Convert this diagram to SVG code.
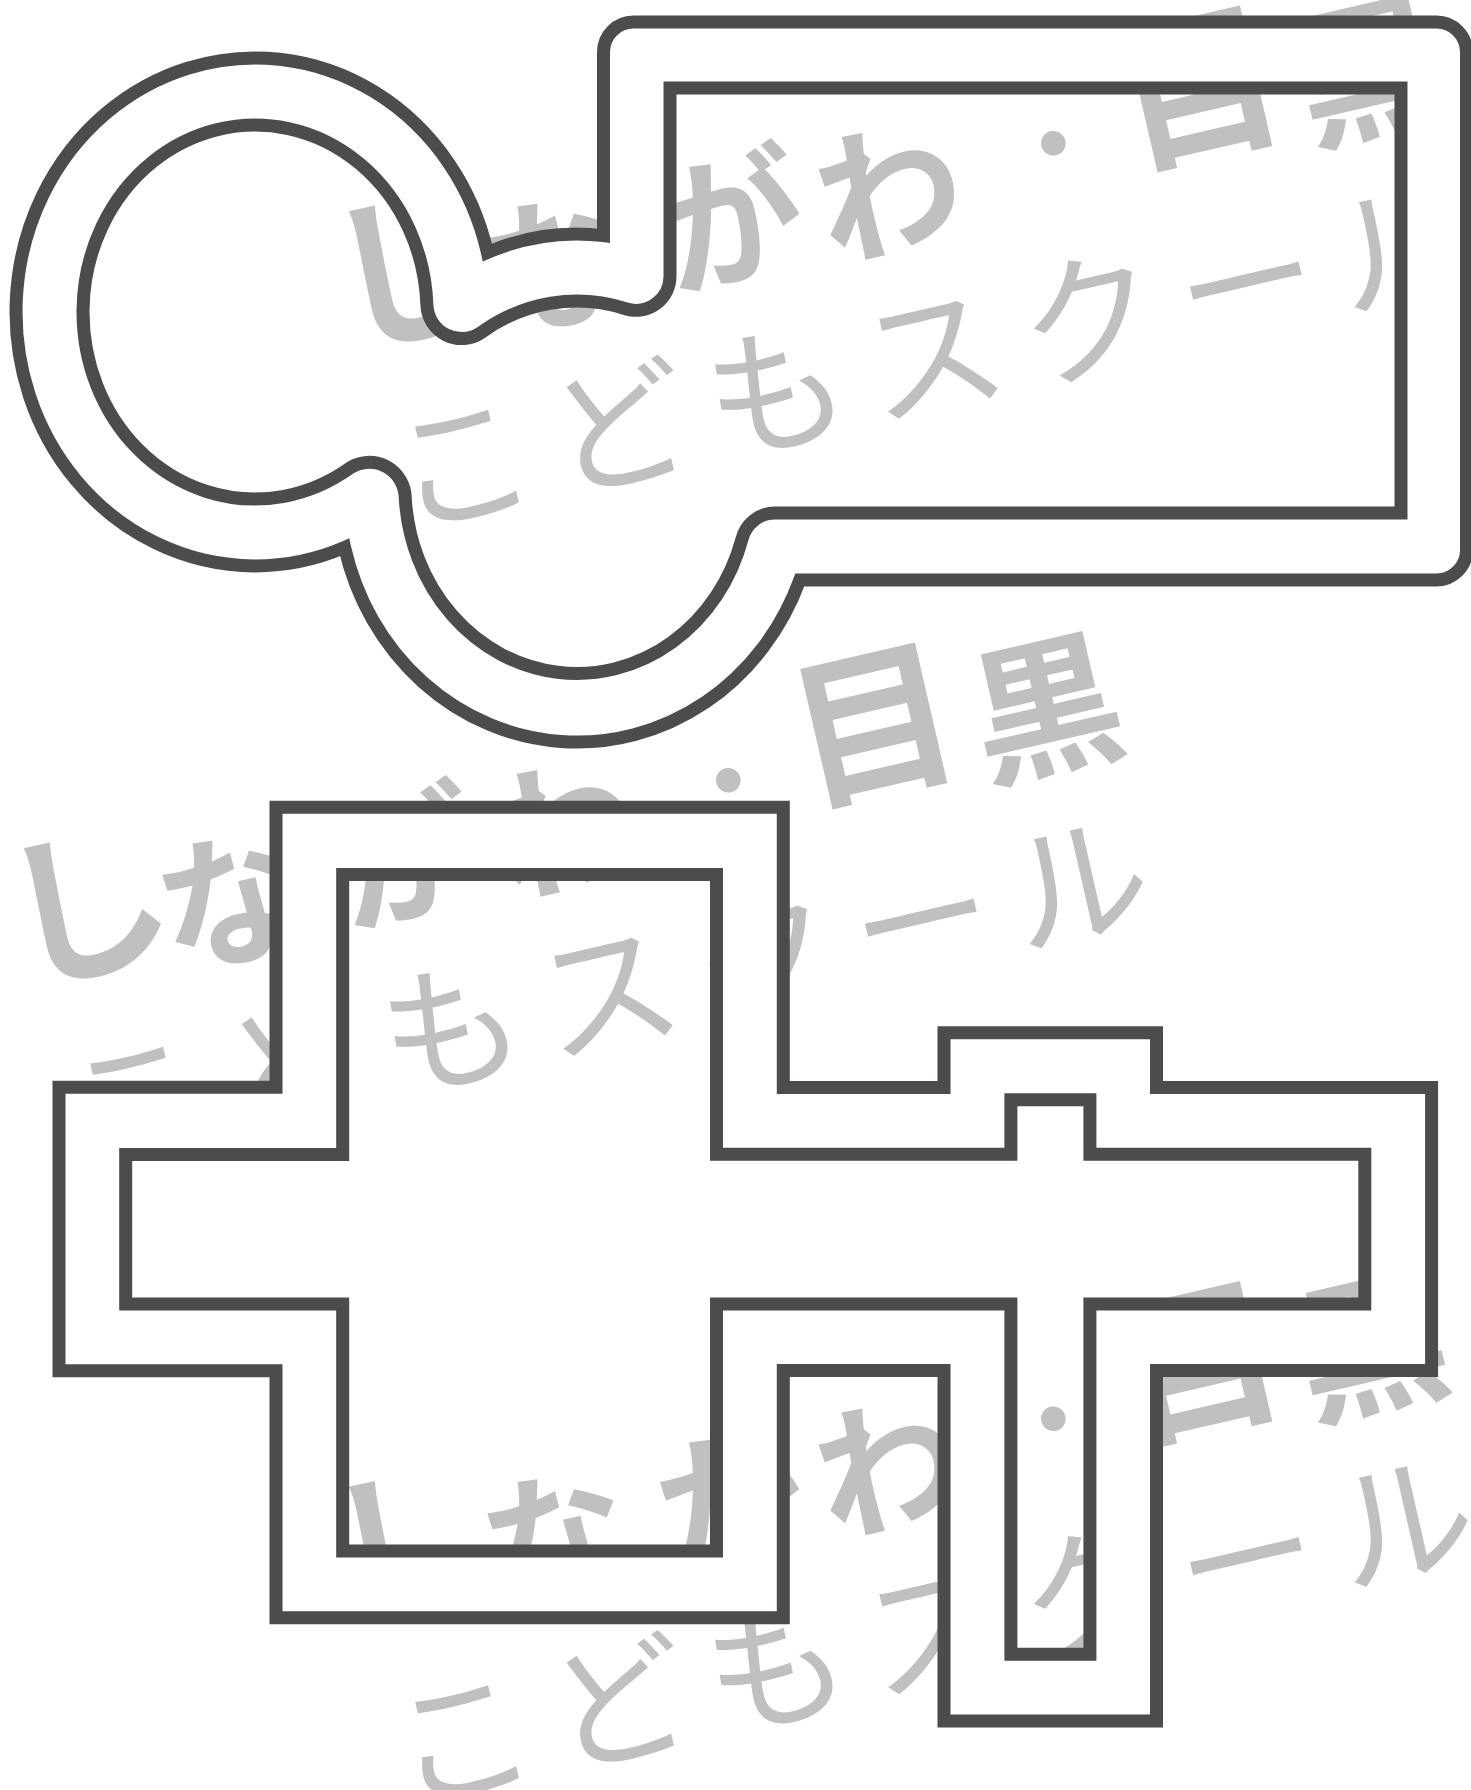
<svg xmlns="http://www.w3.org/2000/svg" xmlns:xlink="http://www.w3.org/1999/xlink" width="1471" height="1790" viewBox="0 0 1471 1790">
  <style>
    .t1 { font-family: "Noto Sans CJK JP", "Noto Sans CJK SC", sans-serif; font-weight: 700; font-size: 165px; fill: #c0c0c2; }
    .t2 { font-family: "Noto Sans CJK JP", "Noto Sans CJK SC", sans-serif; font-weight: 400; font-size: 140px; fill: #c0c0c2; letter-spacing: 21px; }
    .outline { fill: #ffffff; fill-rule: evenodd; stroke: #4d4b4c; stroke-width: 13; stroke-linejoin: miter; stroke-miterlimit: 10; }
  </style>
  <defs>
    <g id="wm">
      <text class="t1"><tspan x="-8" y="0">し</tspan><tspan x="143.5 323.5 484.5" y="21 18 25" font-size="145">ながわ</tspan><tspan x="680.4" y="-2.5" font-size="96">・</tspan><tspan x="800" y="0">目</tspan><tspan x="979" y="18" font-size="150">黒</tspan></text>
      <text class="t2" x="10" y="192">こどもスクール</text>
    </g>
  </defs>
  <rect x="0" y="0" width="1471" height="1790" fill="#ffffff"/>
  <g id="watermarks">
    <use xlink:href="#wm" href="#wm" transform="translate(352.4,344.9) rotate(-13)"/>
    <use xlink:href="#wm" href="#wm" transform="translate(27.4,981.9) rotate(-13)"/>
    <use xlink:href="#wm" href="#wm" transform="translate(352.4,1620.4) rotate(-13)"/>
  </g>
  <g id="key-shape">
    <path class="outline" d="M 487.4 252.5 A 239 254 0 0 1 603.5 235.6 V 52 A 30 30 0 0 1 633.5 22 H 1436.5 A 30 30 0 0 1 1466.5 52 V 550 A 30 30 0 0 1 1436.5 580 H 799.8 A 239 254 0 0 1 344.6 547.4 A 239 254 0 1 1 487.4 252.5 Z M 670 88 H 1401 V 513 H 775 A 34 34 0 0 0 742 539 A 172 187 0 0 1 405.2 497.1 A 36 36 0 0 0 350.2 467.8 A 172 187 0 1 1 426.9 304.8 A 34.8 34.8 0 0 0 481.5 332.4 A 172 187 0 0 1 625.7 308.7 A 34 34 0 0 0 670 276.3 Z"/>
  </g>
  <g id="cross-shape">
    <path class="outline" d="M 276 807.3 H 783.3 V 1087.4 H 944 V 1032.8 H 1156.5 V 1087.4 H 1431.6 V 1370.6 H 1156.5 V 1721 H 944 V 1370.6 H 783.3 V 1617.7 H 276 V 1370.7 H 59 V 1087.3 H 276 Z M 342.7 874.5 H 716.5 V 1154.3 H 1010.9 V 1099.8 H 1089.9 V 1154.3 H 1364.8 V 1304 H 1089.9 V 1654.3 H 1010.9 V 1304 H 716.5 V 1551 H 342.7 V 1304 H 125.7 V 1154.5 H 342.7 Z"/>
  </g>
</svg>
